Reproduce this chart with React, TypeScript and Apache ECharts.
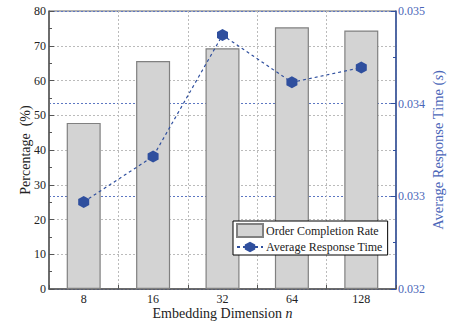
import React, { useEffect, useRef } from "react";
import * as echarts from "echarts";

const categories = ["8", "16", "32", "64", "128"];
const completionRate = [47.8, 65.6, 69.3, 75.3, 74.4];
const responseTime = [0.03294, 0.03343, 0.03474, 0.03423, 0.03439];
const leftTicks = { min: 0, max: 80, interval: 10 };
const rightTicks = { min: 0.032, max: 0.035, interval: 0.001 };

const FONT = "'Liberation Serif', 'DejaVu Serif', serif";
const BLUE = "#2f4f9e";
const BLUE_LABEL = "#4a66b8";
const HEX = "path://M0,-1 L0.866,-0.5 L0.866,0.5 L0,1 L-0.866,0.5 L-0.866,-0.5 Z";

export default function App() {
  const ref = useRef<HTMLDivElement>(null);
  useEffect(() => {
    if (!ref.current) return;
    const chart = echarts.init(ref.current, null, { renderer: "svg" });
    chart.setOption({
      animation: false,
      grid: {
        left: 49,
        right: 67,
        top: 11,
        bottom: 37,
        show: true,
        borderColor: "#666",
        borderWidth: 1,
        backgroundColor: "transparent",
      },
      legend: {
        orient: "vertical",
        left: 233,
        top: 221,
        itemWidth: 26,
        itemHeight: 13,
        itemGap: 3,
        padding: [2, 5, 2, 3],
        borderColor: "#000",
        borderWidth: 1,
        backgroundColor: "#fff",
        textStyle: { fontFamily: FONT, fontSize: 12, color: "#222", padding: [0, 0, 0, -2] },
        data: [
          { name: "Order Completion Rate", icon: "rect" },
          { name: "Average Response Time" },
        ],
      },
      xAxis: {
        type: "category",
        data: categories,
        boundaryGap: true,
        name: "Embedding Dimension {i|n}",
        nameLocation: "middle",
        nameGap: 17,
        nameMoveOverlap: false,
        nameTextStyle: {
          fontFamily: FONT,
          fontSize: 14,
          color: "#222",
          rich: { i: { fontFamily: FONT, fontSize: 14, fontStyle: "italic", color: "#222" } },
        },
        axisLine: { lineStyle: { color: "#555", width: 1.5 } },
        axisTick: { show: true, inside: true, length: 4, lineStyle: { color: "#555" } },
        axisLabel: { fontFamily: FONT, fontSize: 12, color: "#222", margin: 4 },
        splitLine: { show: true, lineStyle: { color: "#bbb", type: [2, 2], width: 1 } },
      },
      yAxis: [
        {
          type: "value",
          min: leftTicks.min,
          max: leftTicks.max,
          interval: leftTicks.interval,
          name: "Percentage  (%)",
          nameLocation: "middle",
          nameGap: 17,
          nameMoveOverlap: false,
          nameTextStyle: { fontFamily: FONT, fontSize: 14, color: "#222" },
          axisLine: { show: true, lineStyle: { color: "#555", width: 1.5 } },
          axisTick: { show: true, inside: true, length: 5, lineStyle: { color: "#555" } },
          minorTick: { show: true, splitNumber: 2, length: 3, lineStyle: { color: "#555" } },
          axisLabel: { fontFamily: FONT, fontSize: 12, color: "#222", margin: 3 },
          splitLine: { show: true, lineStyle: { color: "#bbb", type: [2, 2], width: 1 } },
        },
        {
          type: "value",
          position: "right",
          min: rightTicks.min,
          max: rightTicks.max,
          interval: rightTicks.interval,
          name: "Average Response Time ({i|s})",
          nameLocation: "middle",
          nameGap: 34,
          nameMoveOverlap: false,
          nameRotate: 90,
          nameTextStyle: {
            fontFamily: FONT,
            fontSize: 14.5,
            color: BLUE_LABEL,
            rich: { i: { fontFamily: FONT, fontSize: 14.5, fontStyle: "italic", color: BLUE_LABEL } },
          },
          axisLine: { show: true, lineStyle: { color: BLUE, width: 1.5 } },
          axisTick: { show: true, inside: true, length: 5, lineStyle: { color: BLUE } },
          minorTick: { show: true, splitNumber: 2, length: 3, lineStyle: { color: BLUE } },
          axisLabel: {
            fontFamily: FONT,
            fontSize: 12,
            color: BLUE_LABEL,
            margin: 2,
            formatter: (v: number) => v.toFixed(3),
          },
          splitLine: { show: true, lineStyle: { color: "#5d77c2", type: [2, 2], width: 1.2 } },
        },
      ],
      series: [
        {
          name: "Order Completion Rate",
          type: "bar",
          data: completionRate,
          yAxisIndex: 0,
          barWidth: "49%",
          itemStyle: { color: "#d3d3d3", borderColor: "#808080", borderWidth: 1.2 },
          z: 2,
        },
        {
          name: "Average Response Time",
          type: "line",
          data: responseTime,
          yAxisIndex: 1,
          symbol: HEX,
          symbolSize: [11, 12],
          lineStyle: { color: BLUE, type: [3, 3], width: 1.2 },
          itemStyle: { color: BLUE },
          z: 5,
        },
      ],
    });
    return () => chart.dispose();
  }, []);
  return (
    <div
      ref={ref}
      style={{ position: "absolute", left: 0, top: 0, width: 463, height: 326 }}
    />
  );
}
